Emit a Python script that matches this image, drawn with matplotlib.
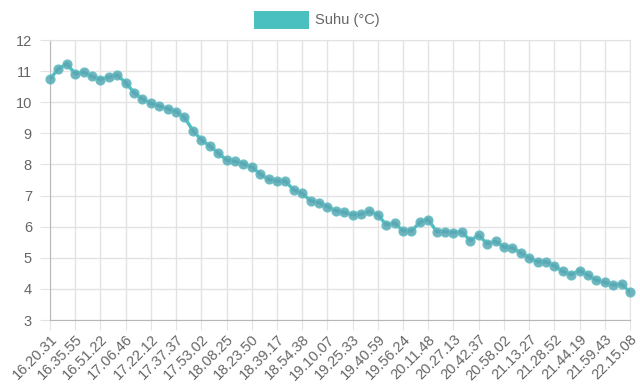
import matplotlib
matplotlib.use("Agg")
import matplotlib.pyplot as plt
from matplotlib.patches import Rectangle

plt.rcParams['font.family'] = ['Liberation Sans', 'DejaVu Sans']

# tick labels (every 3rd reading is labelled)
labels = ["16.20.31", "16.35.55", "16.51.22", "17.06.46", "17.22.12", "17.37.37",
          "17.53.02", "18.08.25", "18.23.50", "18.39.17", "18.54.38", "19.10.07",
          "19.25.33", "19.40.59", "19.56.24", "20.11.48", "20.27.13", "20.42.37",
          "20.58.02", "21.13.27", "21.28.52", "21.44.19", "21.59.43", "22.15.08"]

# temperature readings
suhu = [10.75, 11.07, 11.24, 10.91, 10.97, 10.83, 10.73, 10.81, 10.87, 10.63,
        10.31, 10.10, 9.96, 9.88, 9.79, 9.70, 9.51, 9.09, 8.79, 8.60,
        8.37, 8.14, 8.10, 8.02, 7.92, 7.69, 7.52, 7.47, 7.46, 7.18,
        7.07, 6.83, 6.77, 6.64, 6.51, 6.46, 6.38, 6.40, 6.49, 6.38,
        6.06, 6.12, 5.86, 5.86, 6.14, 6.23, 5.84, 5.84, 5.81, 5.83,
        5.55, 5.73, 5.45, 5.53, 5.35, 5.32, 5.16, 5.00, 4.87, 4.87,
        4.74, 4.56, 4.46, 4.59, 4.45, 4.28, 4.21, 4.13, 4.15, 3.90]

x = list(range(len(suhu)))
tick_pos = x[::3]

fig = plt.figure(figsize=(6.4, 3.84), dpi=100)
ax = fig.add_axes([50/640, 1-320/384, 580/640, 280/384])

ax.plot(x, suhu, color='#4bc0c0', lw=2.4, zorder=3)
ax.plot(x, suhu, ls='none', zorder=4, clip_on=False,
        marker='o', markersize=6.4, markerfacecolor='#5aa6b3',
        markeredgecolor='#62bcc2', markeredgewidth=1, alpha=0.85)

ax.set_xlim(0, len(suhu) - 1)
ax.set_ylim(3, 12)
ax.set_yticks(range(3, 13))
ax.set_xticks(tick_pos)
ax.set_xticklabels(labels, rotation=45, ha='right', rotation_mode='anchor')

ax.grid(True, color='#e3e3e3', lw=1)
ax.set_axisbelow(True)
for s in ['top', 'right']:
    ax.spines[s].set_color('#e3e3e3')
for s in ['left', 'bottom']:
    ax.spines[s].set_color('#b8b8b8')

ax.tick_params(axis='both', colors='#e3e3e3', length=7, labelcolor='#666666',
               labelsize=10.5)
ax.tick_params(axis='y', pad=6)
ax.tick_params(axis='x', pad=2)

# legend
fig.add_artist(Rectangle((254/640, 1-29/384), 55/640, 18/384,
                         transform=fig.transFigure, facecolor='#4bc0c0',
                         edgecolor='none'))
fig.text(315/640, 1-20/384, "Suhu (°C)", color='#666666', fontsize=10.5,
         va='center', ha='left')

fig.savefig("out.png", dpi=100)
